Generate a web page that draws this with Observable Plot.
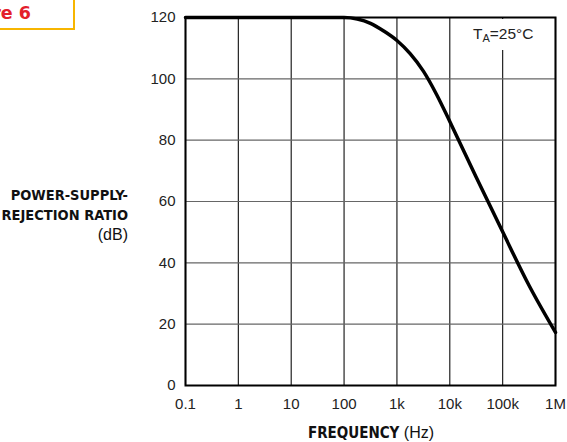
<!DOCTYPE html>
<html>
<head>
<meta charset="utf-8">
<script src="https://cdn.jsdelivr.net/npm/d3@7"></script>
<script src="https://cdn.jsdelivr.net/npm/@observablehq/plot@0.6"></script>
<style>
  html, body { margin: 0; padding: 0; background: #fff; }
  body { width: 567px; height: 442px; overflow: hidden; }
  #wrap { position: relative; width: 567px; height: 442px; font-family: "Liberation Sans", Arial, sans-serif; color: #222; }
  #wrap svg { position: absolute; left: 0; top: 0; }
  .fig { position: absolute; left: -98px; top: -10px; width: 173px; height: 40px; border: 2px solid #f7b500; box-sizing: border-box;
         font-family: "DejaVu Sans", sans-serif; font-weight: bold; font-size: 17.5px; color: #e3202b;
         text-align: right; padding-right: 42px; padding-top: 12px; line-height: 18px; white-space: nowrap; }
  .ylab { position: absolute; right: 439px; top: 185px; text-align: right; line-height: 20px; color: #111; }
  .b { font-family: "DejaVu Sans Condensed", "DejaVu Sans", sans-serif; font-weight: bold; font-size: 14.5px; }
  .n { font-family: "Liberation Sans", Arial, sans-serif; font-size: 16px; }
  .xlab { position: absolute; left: 0; width: 742px; top: 424px; text-align: center; color: #111; line-height: 18px; }
  .xlab .b { font-size: 15px; }
  .ta { position: absolute; left: 470px; top: 19px; padding: 3px 3px 4px 3px; background: #fff; line-height: 24px;
        font-family: "Liberation Sans", Arial, sans-serif; font-size: 15.5px; color: #222; white-space: nowrap; }
  .ta sub { font-size: 11px; vertical-align: -3px; line-height: 0; }
</style>
</head>
<body>
<div id="wrap">
  <div class="fig">Figure 6</div>
  <div class="ylab"><span class="b">POWER-SUPPLY-</span><br><span class="b">REJECTION RATIO</span><br><span class="n">(dB)</span></div>
  <div class="xlab"><span class="b">FREQUENCY</span> <span class="n">(Hz)</span></div>
  <div class="ta">T<sub>A</sub>=25°C</div>
</div>
<script>
// Data
const freqHz = [0.1, 1, 10, 100, 178, 316, 562, 1000, 1778, 3162, 5623, 10000, 31623, 100000, 316228, 1000000];
const psrrDb = [120, 120, 120, 120, 119.5, 118.1, 115.6, 112.5, 108.2, 102.5, 94.9, 86.1, 67.9, 50.1, 32.6, 17.3];
const xTicks = [0.1, 1, 10, 100, 1000, 10000, 100000, 1000000];
const xTickLabels = ["0.1", "1", "10", "100", "1k", "10k", "100k", "1M"];
const yTicks = [0, 20, 40, 60, 80, 100, 120];

const data = freqHz.map((f, i) => ({f, db: psrrDb[i]}));

const chart = Plot.plot({
  width: 567,
  height: 442,
  marginLeft: 185,
  marginRight: 12,
  marginTop: 17,
  marginBottom: 57,
  style: {fontFamily: "Liberation Sans, Arial, sans-serif", fontSize: "15px", color: "#222", background: "transparent"},
  x: {type: "log", domain: [0.1, 1e6], label: null},
  y: {domain: [0, 120], label: null},
  marks: [
    Plot.ruleX(xTicks, {stroke: "#222", strokeWidth: 1.2}),
    Plot.ruleY(yTicks, {stroke: "#666", strokeWidth: 1.2}),
    Plot.line(data, {x: "f", y: "db", stroke: "black", strokeWidth: 3.5, curve: "monotone-x"}),
    Plot.frame({stroke: "black", strokeWidth: 2}),
    Plot.axisX({ticks: xTicks, tickFormat: (d) => xTickLabels[xTicks.indexOf(d)], tickSize: 0, tickPadding: 13, label: null}),
    Plot.axisY({ticks: yTicks, tickSize: 0, tickPadding: 10, label: null})
  ]
});
document.getElementById("wrap").prepend(chart);
</script>
</body>
</html>
